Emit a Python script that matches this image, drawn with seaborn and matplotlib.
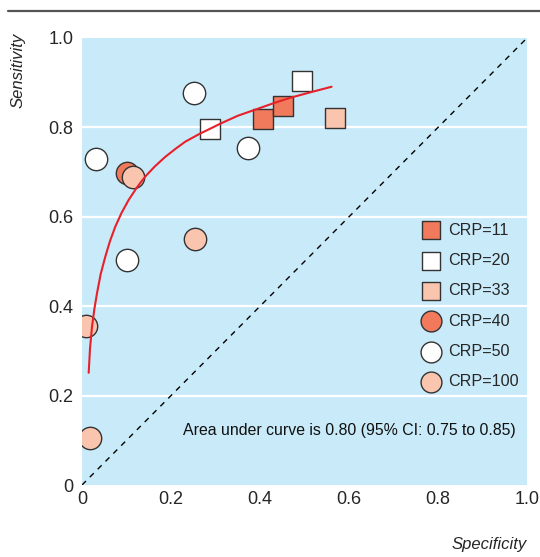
import matplotlib
matplotlib.use("Agg")
import matplotlib.pyplot as plt
import seaborn as sns
import pandas as pd
import numpy as np

# ---- data ----
labels = ["CRP=11", "CRP=11", "CRP=20", "CRP=20", "CRP=33",
          "CRP=40", "CRP=50", "CRP=50", "CRP=50", "CRP=50",
          "CRP=100", "CRP=100", "CRP=100", "CRP=100"]
spec = [0.407, 0.452, 0.288, 0.494, 0.569,
        0.101, 0.031, 0.252, 0.373, 0.101,
        0.115, 0.254, 0.009, 0.018]
sens = [0.819, 0.848, 0.796, 0.904, 0.821,
        0.698, 0.729, 0.877, 0.754, 0.503,
        0.689, 0.550, 0.356, 0.105]

curve_x = [0.015, 0.018, 0.0225, 0.028, 0.0337, 0.042, 0.0524, 0.063, 0.0748,
           0.089, 0.105, 0.123, 0.142, 0.164, 0.187, 0.210, 0.232, 0.265,
           0.292, 0.310, 0.350, 0.393, 0.430, 0.467, 0.515, 0.561]
curve_y = [0.251, 0.305, 0.354, 0.395, 0.429, 0.472, 0.511, 0.546, 0.578,
           0.609, 0.638, 0.665, 0.690, 0.713, 0.734, 0.752, 0.768, 0.786,
           0.799, 0.808, 0.826, 0.841, 0.854, 0.866, 0.879, 0.891]

diag = [0.0, 1.0]
ticks = [0, 0.2, 0.4, 0.6, 0.8, 1.0]
tick_labels = ["0", "0.2", "0.4", "0.6", "0.8", "1.0"]
order = ["CRP=11", "CRP=20", "CRP=33", "CRP=40", "CRP=50", "CRP=100"]

df = pd.DataFrame({"label": labels, "spec": spec, "sens": sens})

sns.set_style("white")
plt.rcParams['font.family'] = ['Liberation Sans Narrow', 'Liberation Sans', 'DejaVu Sans']

dark = "#F07A5B"
white = "#FFFFFF"
light = "#F9C5AE"
palette = {"CRP=11": dark, "CRP=20": white, "CRP=33": light,
           "CRP=40": dark, "CRP=50": white, "CRP=100": light}
markers = {"CRP=11": "s", "CRP=20": "s", "CRP=33": "s",
           "CRP=40": "o", "CRP=50": "o", "CRP=100": "o"}

fig = plt.figure(figsize=(5.4, 5.57), dpi=100)
ax = fig.add_axes([82/540, 1-485/557, 445/540, 447/557])
ax.set_facecolor("#C9EAF9")

for y in [0.2, 0.4, 0.6, 0.8]:
    ax.axhline(y, color="white", lw=1.6, zorder=0)

sns.lineplot(x=diag, y=diag, ax=ax, color="black", lw=1.0,
             linestyle=(0, (4, 4)), zorder=1)

sizes = {"s": 200, "o": 260}
for lab in order:
    sub = df[df.label == lab]
    sns.scatterplot(data=sub, x="spec", y="sens", ax=ax, color=palette[lab],
                    marker=markers[lab], s=sizes[markers[lab]],
                    edgecolor="#333333", linewidth=1.0, zorder=3, label=lab)

sns.lineplot(x=curve_x, y=curve_y, ax=ax, color="#E8202A", lw=1.5,
             sort=False, zorder=4)

ax.set_xlim(0, 1)
ax.set_ylim(0, 1)
ax.set_xticks(ticks)
ax.set_xticklabels(tick_labels)
ax.set_yticks(ticks)
ax.set_yticklabels(tick_labels)
for s in ax.spines.values():
    s.set_visible(False)
ax.tick_params(axis="x", direction="in", length=5, width=1.2, color="white",
               labelsize=13, pad=4)
ax.tick_params(axis="y", length=0, labelsize=13, pad=6)
ax.set_xlabel("")
ax.set_ylabel("")

ax.text(0.975, 0.123, "Area under curve is 0.80 (95% CI: 0.75 to 0.85)",
        ha="right", va="center", fontsize=11.4, color="#111111")

handles, labs = ax.get_legend_handles_labels()
pairs = [(h, l) for h, l in zip(handles, labs) if l in order]
leg = ax.legend([p[0] for p in pairs], [p[1] for p in pairs],
                loc="upper left", bbox_to_anchor=(0.745, 0.605), frameon=False,
                fontsize=11.6, handletextpad=0.45, labelspacing=0.95,
                borderpad=0, handlelength=1.2)
for i, h in enumerate(leg.legend_handles):
    h.set_sizes([150] if i < 3 else [225])

fig.text(18/540, 1-70/557, "Sensitivity", rotation=90, style="italic",
         ha="center", va="center", fontsize=12)
fig.text(527/540, 1-545/557, "Specificity", style="italic",
         ha="right", va="center", fontsize=12)
fig.add_artist(plt.Line2D([8/540, 1.0], [1-11/557, 1-11/557],
                          color="#555555", lw=1.6, transform=fig.transFigure))

fig.savefig("out.png", dpi=100)
